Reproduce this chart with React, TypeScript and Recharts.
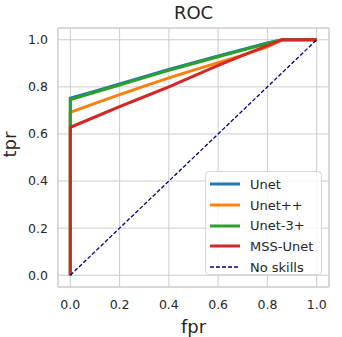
import {
    CartesianGrid,
    Line,
    LineChart,
    ReferenceArea,
    XAxis,
    YAxis
} from "recharts";

const fprPoints = [0, 0, 0.1, 0.2, 0.3, 0.4, 0.5, 0.6, 0.7, 0.8, 0.86, 1.0];
const unetTpr = [0, 0.752, 0.782, 0.812, 0.843, 0.874, 0.903, 0.931, 0.959, 0.986, 1.0, 1.0];
const unetPPTpr = [0, 0.692, 0.730, 0.767, 0.803, 0.838, 0.871, 0.903, 0.935, 0.970, 1.0, 1.0];
const unet3Tpr = [0, 0.746, 0.777, 0.808, 0.839, 0.870, 0.899, 0.928, 0.956, 0.984, 1.0, 1.0];
const mssTpr = [0, 0.628, 0.672, 0.716, 0.758, 0.800, 0.846, 0.891, 0.934, 0.975, 1.0, 1.0];
const noSkillFpr = [0, 1];
const noSkillTpr = [0, 1];
const ticks = [0, 0.2, 0.4, 0.6, 0.8, 1.0];

const toRows = (xs: number[], ys: number[]) => xs.map((x, i) => ({fpr: x, tpr: ys[i]}));

const series = [
    {name: "Unet", color: "#1f77b4", data: toRows(fprPoints, unetTpr)},
    {name: "Unet++", color: "#ff7f0e", data: toRows(fprPoints, unetPPTpr)},
    {name: "Unet-3+", color: "#2ca02c", data: toRows(fprPoints, unet3Tpr)},
    {name: "MSS-Unet", color: "#d62728", data: toRows(fprPoints, mssTpr)},
];

const textColor = "#262626";
const font = "DejaVu Sans, sans-serif";

const LegendBox = () => (
    <div style={{
        position: "absolute", left: 205, top: 171, width: 117, height: 104, boxSizing: "border-box",
        border: "1px solid #d6d6d6",
        borderRadius: 4,
        background: "rgba(255,255,255,0.8)",
        padding: "2px 6px 0 4px",
        fontFamily: font,
        fontSize: 13,
        color: textColor,
    }}>
        {series.map(s => (
            <div key={s.name} style={{display: "flex", alignItems: "center", height: 20.7}}>
                <svg width={30} height={6} style={{marginRight: 10}}>
                    <line x1={0} x2={30} y1={3} y2={3} stroke={s.color} strokeWidth={3}/>
                </svg>
                <span>{s.name}</span>
            </div>
        ))}
        <div style={{display: "flex", alignItems: "center", height: 20.7}}>
            <svg width={30} height={6} style={{marginRight: 10}}>
                <line x1={0} x2={30} y1={3} y2={3} stroke="#000080" strokeWidth={1.3} strokeDasharray="4 2"/>
            </svg>
            <span>No skills</span>
        </div>
    </div>
);

export default function App() {
    return (
        <div style={{position: "absolute", left: 0, top: 0, width: 342, height: 337, background: "#fff"}}>
            <LineChart width={342} height={337} margin={{top: 28, right: 13, left: 0, bottom: 0}}>
                <CartesianGrid stroke="#cccccc" strokeWidth={1} vertical horizontal/>
                <ReferenceArea x1={-0.05} x2={1.05} y1={-0.05} y2={1.05} fill="none" stroke="#cccccc"
                               strokeWidth={1} ifOverflow="visible"/>
                <XAxis type="number" dataKey="fpr" domain={[-0.05, 1.05]} ticks={ticks}
                       tickFormatter={(v: number) => v.toFixed(1)} allowDuplicatedCategory={false}
                       axisLine={false} tickLine={false} height={50} tickMargin={7}
                       tick={{fill: textColor, fontSize: 12.5, fontFamily: font}}
                       label={{value: "fpr", position: "insideBottom", offset: 4, fill: textColor, fontSize: 18, fontFamily: font}}/>
                <YAxis type="number" dataKey="tpr" domain={[-0.05, 1.05]} ticks={ticks}
                       tickFormatter={(v: number) => v.toFixed(1)}
                       axisLine={false} tickLine={false} width={58} tickMargin={4}
                       tick={{fill: textColor, fontSize: 12.5, fontFamily: font}}
                       label={{value: "tpr", angle: -90, position: "insideLeft", offset: 10, fill: textColor, fontSize: 18, fontFamily: font}}/>
                {series.map(s => (
                    <Line key={s.name} data={s.data} dataKey="tpr" name={s.name} stroke={s.color} strokeWidth={3}
                          dot={false} isAnimationActive={false} type="linear"/>
                ))}
                <Line data={toRows(noSkillFpr, noSkillTpr)} dataKey="tpr" name="No skills" stroke="#000080"
                      strokeWidth={1.3} strokeDasharray="4 2" dot={false} isAnimationActive={false}/>
            </LineChart>
            <div style={{
                position: "absolute", left: 58, width: 271, top: 2, textAlign: "center",
                fontFamily: font, fontSize: 18, color: textColor
            }}>ROC
            </div>
            <LegendBox/>
        </div>
    );
}
